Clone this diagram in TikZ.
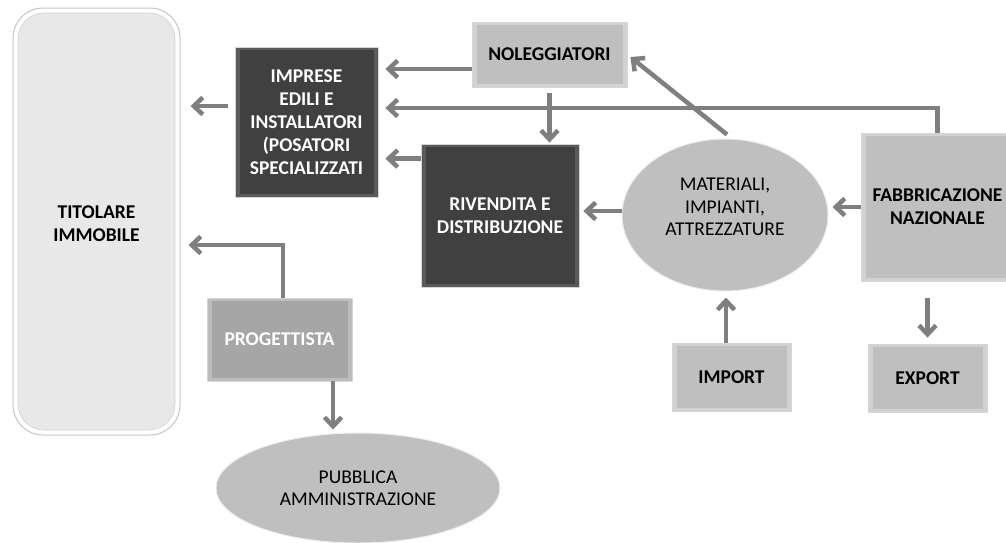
\documentclass[tikz,border=0pt]{standalone}
\usepackage{fontspec}
\setmainfont{Carlito}
\usetikzlibrary{arrows.meta,shapes.geometric}
\definecolor{dkfill}{HTML}{404040}
\definecolor{dkband}{HTML}{5A5A5A}
\definecolor{ltfill}{HTML}{BFBFBF}
\definecolor{ltband}{HTML}{D2D2D2}
\definecolor{mdfill}{HTML}{A6A6A6}
\definecolor{mdband}{HTML}{BDBDBD}
\definecolor{arrowgray}{HTML}{7F7F7F}
\definecolor{edgegray}{HTML}{D6D6D6}
\definecolor{titfill}{HTML}{E8E8E8}
\begin{document}
\begin{tikzpicture}[x=1pt,y=-1pt,
  bevel/.style 2 args={rectangle, fill=#1, draw=edgegray, line width=0.8pt,
    path picture={\fill[#2] ([shift={(4.5pt,-3pt)}]path picture bounding box.north west)
      rectangle ([shift={(-4.5pt,3pt)}]path picture bounding box.south east);}},
  lbl/.style={font=\fontsize{19.5}{23}\selectfont\bfseries, align=center, inner sep=2pt},
  darkbox/.style={bevel={dkband}{dkfill}, text=white, lbl},
  lightbox/.style={bevel={ltband}{ltfill}, text=black, lbl},
  midbox/.style={bevel={mdband}{mdfill}, text=white, lbl},
  oval/.style={ellipse, fill=ltfill, draw=white!85!gray, line width=1pt, font=\fontsize{19.5}{22.5}\selectfont, align=center, inner sep=0pt},
  arr/.style={draw=arrowgray, line width=4.5pt, -{Straight Barb[length=9pt,width=17pt]}},
  ]
\useasboundingbox (0,0) rectangle (1006,542);

% Titolare immobile
\node[rectangle, rounded corners=30pt, fill=white, draw=gray!45, line width=1pt,
  minimum width=167pt, minimum height=427pt,
  path picture={\draw[fill=titfill, draw=gray!35, line width=0.6pt, rounded corners=26pt]
     ([shift={(5pt,-5pt)}]path picture bounding box.north west)
     rectangle ([shift={(-5pt,5pt)}]path picture bounding box.south east);},
  label={[lbl, yshift=-2pt]center:TITOLARE\\IMMOBILE}]
  (tit) at (96.5,221.5) {};

\node[darkbox, minimum width=143pt, minimum height=150pt] (imp) at (306.5,122)
  {IMPRESE\\EDILI E\\INSTALLATORI\\(POSATORI\\SPECIALIZZATI};
\node[lightbox, minimum width=155pt, minimum height=65pt] (nol) at (549.5,54.5) {NOLEGGIATORI};
\node[darkbox, minimum width=158pt, minimum height=143pt] (riv) at (500,215.5)
  {RIVENDITA E\\DISTRIBUZIONE};
\node[oval, minimum width=206pt, minimum height=152pt] (mat) at (725,215)
  {MATERIALI,\\IMPIANTI,\\ATTREZZATURE\\[-6pt]};
\node[lightbox, minimum width=153pt, minimum height=148pt] (fab) at (937.5,207)
  {FABBRICAZIONE\\NAZIONALE};
\node[midbox, minimum width=145pt, minimum height=83pt] (prog) at (279.5,339.5) {PROGETTISTA};
\node[oval, minimum width=284pt, minimum height=110pt] (pa) at (358,488)
  {PUBBLICA\\AMMINISTRAZIONE};
\node[lightbox, minimum width=119pt, minimum height=68pt] (import) at (731.5,377) {IMPORT};
\node[lightbox, minimum width=119pt, minimum height=68pt] (export) at (927.5,378) {EXPORT};

\coordinate (nolTip) at ([shift={(3pt,-2.5pt)}]nol.east);

% connectors
\draw[arr, shorten >=7pt] ([yshift=-14.5pt]nol.west) -- ([yshift=-14.5pt]nol.west -| imp.east);
\draw[arr, shorten >=7pt] (fab.north) |- ([yshift=14pt]imp.east);
\draw[arr, shorten >=7pt] ([yshift=-15pt]riv.north west) -- ([yshift=-15pt]riv.north west -| imp.east);
\draw[arr, shorten <=7pt, shorten >=10pt] ([yshift=16pt]imp.west) -- ([yshift=16pt]imp.west -| tit.east);
\draw[arr, shorten >=8pt] ([xshift=3.5pt]prog.north) |- ([yshift=-23.5pt]tit.east);
\draw[arr, shorten <=6pt, shorten >=1pt] (nol.south) -- (nol.south |- riv.north);
\draw[arr] ([xshift=2pt,yshift=4pt]mat.north) -- (nolTip);
\draw[arr, shorten >=4pt] ([yshift=4pt]mat.west) -- ([yshift=4pt]mat.west -| riv.east);
\draw[arr, shorten >=4pt] (fab.west) -- (fab.west -| mat.east);
\draw[arr, shorten >=6pt] ([xshift=-5.5pt]import.north) -- ([xshift=-5.5pt]import.north |- mat.south);
\draw[arr, shorten <=17pt, shorten >=6pt] (export.north |- fab.south) -- (export.north);
\draw[arr, shorten >=3pt] ([xshift=53.5pt]prog.south) -- ([xshift=53.5pt]prog.south |- pa.north);
\end{tikzpicture}
\end{document}
